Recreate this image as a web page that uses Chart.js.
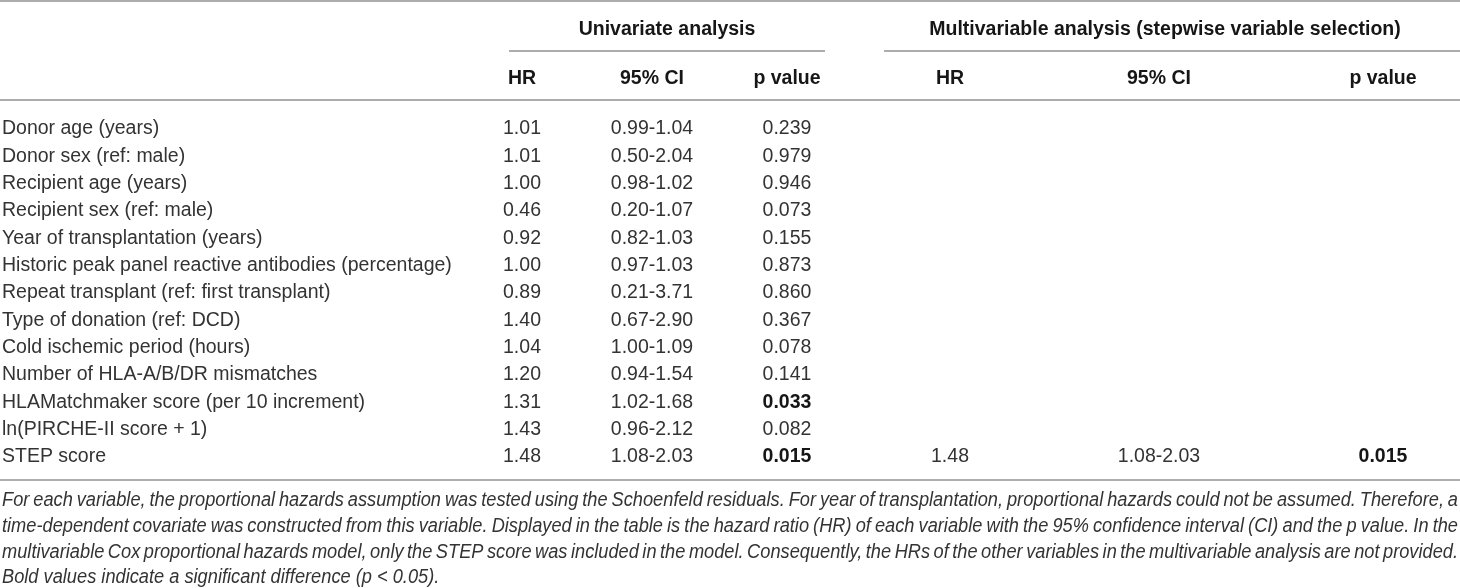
<!DOCTYPE html>
<html><head><meta charset="utf-8">
<style>html,body{margin:0;padding:0;background:#fff}#wrap{width:1460px;height:588px;position:relative}</style>
<script src="https://cdn.jsdelivr.net/npm/chart.js@4.4.1/dist/chart.umd.min.js"></script>
</head><body><div id="wrap"><canvas id="c" width="1460" height="588"></canvas></div>
<script>
// ---------- data ----------
const variables = [
  'Donor age (years)',
  'Donor sex (ref: male)',
  'Recipient age (years)',
  'Recipient sex (ref: male)',
  'Year of transplantation (years)',
  'Historic peak panel reactive antibodies (percentage)',
  'Repeat transplant (ref: first transplant)',
  'Type of donation (ref: DCD)',
  'Cold ischemic period (hours)',
  'Number of HLA-A/B/DR mismatches',
  'HLAMatchmaker score (per 10 increment)',
  'ln(PIRCHE-II score + 1)',
  'STEP score'
];
const uniHR   = [1.01,1.01,1.00,0.46,0.92,1.00,0.89,1.40,1.04,1.20,1.31,1.43,1.48];
const uniLow  = [0.99,0.50,0.98,0.20,0.82,0.97,0.21,0.67,1.00,0.94,1.02,0.96,1.08];
const uniHigh = [1.04,2.04,1.02,1.07,1.03,1.03,3.71,2.90,1.09,1.54,1.68,2.12,2.03];
const uniP    = [0.239,0.979,0.946,0.073,0.155,0.873,0.860,0.367,0.078,0.141,0.033,0.082,0.015];
const multiHR   = [null,null,null,null,null,null,null,null,null,null,null,null,1.48];
const multiLow  = [null,null,null,null,null,null,null,null,null,null,null,null,1.08];
const multiHigh = [null,null,null,null,null,null,null,null,null,null,null,null,2.03];
const multiP    = [null,null,null,null,null,null,null,null,null,null,null,null,0.015];
const groupHeaders  = ['Univariate analysis', 'Multivariable analysis (stepwise variable selection)'];
const columnHeaders = ['HR', '95% CI', 'p value', 'HR', '95% CI', 'p value'];
const footnoteLines = [
  'For each variable, the proportional hazards assumption was tested using the Schoenfeld residuals. For year of transplantation, proportional hazards could not be assumed. Therefore, a',
  'time-dependent covariate was constructed from this variable. Displayed in the table is the hazard ratio (HR) of each variable with the 95% confidence interval (CI) and the p value. In the',
  'multivariable Cox proportional hazards model, only the STEP score was included in the model. Consequently, the HRs of the other variables in the multivariable analysis are not provided.',
  'Bold values indicate a significant difference (p < 0.05).'
];
const SIGNIFICANCE = 0.05;

// ---------- layout (positions / styles only) ----------
const LABEL_X = 2;
const COL_X = [522, 652, 787, 950, 1159, 1383];
const GROUP_X = [667, 1165];
const GROUP_RULE = [[509, 825], [884, 1460]];
const ROW = { top: -4.62, group: -3.62, groupRule: -2.78, header: -1.83, headerRule: -0.99, bottomRule: 12.92, foot0: 13.61, footStep: 0.937 };
const FONT = '"Liberation Sans", Arial, Helvetica, sans-serif';
const SIZE = 19.5;
const TEXT_DY = 2;
const FOOT_SCALE = 0.935;
const TXT = '#333';
const BOLD_TXT = '#161616';
const RULE = '#adadad';

const fmt2 = v => v.toFixed(2);
const fmtCI = (a, b) => a.toFixed(2) + '-' + b.toFixed(2);
const fmtP = v => v.toFixed(3);

function column(x, texts, bolds, align) {
  const pts = [], t = [], b = [];
  texts.forEach((s, i) => { if (s !== null) { pts.push({ x, y: i }); t.push(s); b.push(bolds ? bolds[i] : false); } });
  return { type: 'scatter', data: pts, texts: t, bolds: b, align: align || 'center', pointRadius: 0, showLine: false };
}

const datasets = [
  column(LABEL_X, variables, null, 'left'),
  column(COL_X[0], uniHR.map(fmt2)),
  column(COL_X[1], uniLow.map((v, i) => fmtCI(v, uniHigh[i]))),
  column(COL_X[2], uniP.map(fmtP), uniP.map(p => p < SIGNIFICANCE)),
  column(COL_X[3], multiHR.map(v => v === null ? null : fmt2(v))),
  column(COL_X[4], multiLow.map((v, i) => v === null ? null : fmtCI(v, multiHigh[i]))),
  column(COL_X[5], multiP.map(v => v === null ? null : fmtP(v)), multiP.map(p => p !== null && p < SIGNIFICANCE))
];

const tablePlugin = {
  id: 'tableText',
  afterDatasetsDraw(chart) {
    const ctx = chart.ctx;
    const xs = chart.scales.x, ys = chart.scales.y;
    const px = v => xs.getPixelForValue(v), py = v => ys.getPixelForValue(v);
    ctx.save();
    // rules
    ctx.strokeStyle = RULE; ctx.lineWidth = 2;
    const hline = (x0, x1, r) => { const y = Math.round(py(r)); ctx.beginPath(); ctx.moveTo(px(x0), y); ctx.lineTo(px(x1), y); ctx.stroke(); };
    hline(0, 1460, ROW.top);
    GROUP_RULE.forEach(g => hline(g[0], g[1], ROW.groupRule));
    hline(0, 1460, ROW.headerRule);
    hline(0, 1460, ROW.bottomRule);
    // headers
    ctx.textBaseline = 'middle'; ctx.textAlign = 'center'; ctx.fillStyle = BOLD_TXT;
    ctx.font = 'bold ' + SIZE + 'px ' + FONT;
    groupHeaders.forEach((h, i) => ctx.fillText(h, px(GROUP_X[i]), py(ROW.group) + TEXT_DY));
    columnHeaders.forEach((h, i) => ctx.fillText(h, px(COL_X[i]), py(ROW.header) + TEXT_DY));
    // cells
    chart.data.datasets.forEach((ds, di) => {
      const meta = chart.getDatasetMeta(di);
      ctx.textAlign = ds.align;
      meta.data.forEach((el, j) => {
        const b = ds.bolds[j];
        ctx.font = (b ? 'bold ' : '') + SIZE + 'px ' + FONT;
        ctx.fillStyle = b ? BOLD_TXT : TXT;
        ctx.fillText(ds.texts[j], el.x, el.y + TEXT_DY);
      });
    });
    // footnote (justified except last line), slightly condensed
    ctx.font = 'italic ' + SIZE + 'px ' + FONT;
    ctx.fillStyle = TXT; ctx.textAlign = 'left';
    const left = px(2) / FOOT_SCALE, right = px(1458) / FOOT_SCALE;
    ctx.save();
    ctx.scale(FOOT_SCALE, 1);
    footnoteLines.forEach((line, i) => {
      const y = py(ROW.foot0 + i * ROW.footStep) + TEXT_DY;
      if (i === footnoteLines.length - 1) { ctx.fillText(line, left, y); return; }
      const words = line.split(' ');
      const wsum = words.reduce((s, w) => s + ctx.measureText(w).width, 0);
      const gap = (right - left - wsum) / (words.length - 1);
      let x = left;
      words.forEach(w => { ctx.fillText(w, x, y); x += ctx.measureText(w).width + gap; });
    });
    ctx.restore();
    ctx.restore();
  }
};

new Chart(document.getElementById('c'), {
  type: 'scatter',
  data: { datasets },
  options: {
    responsive: false, animation: false, devicePixelRatio: 1,
    layout: { padding: 0 },
    plugins: { legend: { display: false }, tooltip: { enabled: false } },
    scales: {
      x: { type: 'linear', min: 0, max: 1460, display: false },
      y: { type: 'linear', min: -4.646, max: 16.866, reverse: true, display: false }
    },
    events: []
  },
  plugins: [tablePlugin]
});
</script></body></html>
